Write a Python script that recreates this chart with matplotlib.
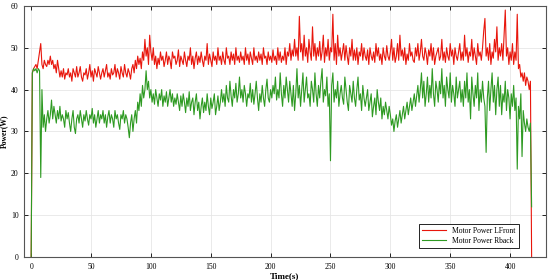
import numpy as np
import matplotlib
matplotlib.use("Agg")
import matplotlib.pyplot as plt

# motor power, one sample per second
lfront = [0, 44, 45, 45.5, 46, 45, 47, 49, 51, 46, 45, 47, 46, 45.5, 47, 46, 48, 46, 47, 45,
          46, 44, 47, 45, 43, 44.5, 43, 45, 42.5, 44, 43.5, 45, 43, 44, 42, 45, 44, 43, 45.5, 43,
          44, 45.5, 43, 42, 44, 43.5, 45, 42.5, 44, 46, 43, 44.5, 42, 45, 44, 43, 45.5, 44, 42.5, 44,
          45, 43, 44.5, 46, 43, 44, 42.5, 45, 43.5, 44, 46, 43, 45, 44, 42.5, 45.5, 44, 43, 46, 44,
          43, 45, 44, 42.5, 45, 46, 44, 47, 45, 48, 46, 47.5, 45, 49, 47, 52, 48, 50, 46, 53,
          49, 47, 50, 46, 48, 45, 47.5, 46, 49, 47, 48, 45.5, 47, 49, 46, 48, 47, 45, 49, 47.5,
          48, 46, 47, 49.5, 45.5, 48, 47, 46, 49, 47, 45.5, 48, 47, 50, 46, 48, 45, 47.5, 49, 46,
          48, 46.5, 49, 47, 45.5, 48, 47, 51, 46, 48.5, 47, 45.5, 49, 47, 48, 46, 50, 47, 48, 46,
          49, 47, 46, 50, 47.5, 48, 46, 49, 47, 48.5, 46, 50, 47, 48, 46.5, 49, 47, 48, 46, 50,
          47, 48.5, 46, 49, 47.5, 46, 50, 47, 48, 46.5, 49, 47, 48.5, 46, 50, 47.5, 48, 46, 49, 47,
          48, 46.5, 49.5, 47, 48, 46, 50, 47, 49, 46.5, 48, 47, 50, 46, 49, 48, 51, 47, 49.5, 48,
          52, 48, 50, 47, 57.5, 49, 51, 47, 53, 48, 50, 46.5, 52, 49, 47, 55, 48, 51, 47, 50,
          48, 51.5, 47, 49, 53, 46.5, 50, 48, 52, 47, 50, 49, 58, 47, 51, 46, 53, 48, 50, 47,
          49, 51, 47, 50.5, 48, 46, 50, 48, 52, 47, 49.5, 47, 50, 46, 49, 48, 51, 47, 50, 48,
          47, 49.5, 46, 50, 48, 47, 49, 46.5, 51, 48, 50, 47, 48.5, 46, 50, 48, 47, 50.5, 48, 47,
          49, 52, 47, 50, 46.5, 48, 51, 47, 53, 48, 49.5, 47, 50, 46, 48.5, 47, 51, 48, 49, 47,
          46.5, 50, 48, 51, 47, 49, 52, 48, 47, 50, 48.5, 46, 49.5, 48, 51, 47, 50, 46, 48, 49,
          50, 47, 48, 52, 47, 49, 46.5, 50, 48, 47, 51, 48, 49.5, 46, 50, 48, 47, 49, 51, 47,
          49, 47, 53, 48, 50, 46.5, 49, 48, 52, 47, 50, 48, 46, 51, 48, 49, 47, 50, 54, 57,
          48, 50, 47, 51, 46, 49, 47.5, 52, 49, 55, 47, 50, 48, 51, 47, 53, 59, 48, 50, 46,
          49, 47, 51, 46, 49, 47, 58, 45, 46, 43, 44, 42, 44, 41, 43, 42, 40, 42, 0]

rback = [0, 44, 45, 44.5, 45, 44, 45, 44.5, 19, 40, 31, 34, 30, 33, 35, 32, 34, 37.5, 33, 36,
         34, 32, 35, 33, 36, 32.5, 34, 33, 31, 35, 33, 34.5, 32, 30, 33, 35, 31, 29.5, 33, 34,
         32, 35, 33, 31, 34, 32.5, 35, 33, 31.5, 34, 33, 35.5, 32, 34, 31, 33, 35, 32, 34, 33,
         35, 32, 34, 31, 33.5, 35, 32, 34, 33, 31, 35, 33, 34, 32, 30.5, 34, 33, 35, 32, 34,
         33, 31, 28.5, 32, 34, 30, 33, 35, 32, 37, 35, 39, 36, 41, 38, 40, 44.5, 40, 42, 38,
         40, 37, 39, 36.5, 40, 38, 36, 39, 37.5, 40, 36, 38.5, 37, 39.5, 36, 38, 40, 37, 39, 36,
         38, 36.5, 39, 37, 35, 38.5, 36, 39, 37, 34.5, 38, 36, 39.5, 35, 37, 38, 34, 37, 39, 35,
         37, 33, 36, 38, 34.5, 37, 35, 39, 36, 34, 38, 35.5, 37, 39, 34, 36, 38.5, 35, 37, 40,
         37, 39, 36, 41, 38, 37, 42, 38.5, 36, 40, 38, 41.5, 37, 39, 43, 38, 40, 37, 41, 39,
         36, 39, 38, 41.5, 37, 40, 36.5, 39, 42, 38, 35, 39, 37, 41, 38, 36, 40, 42.5, 38, 37,
         40, 38, 41, 39, 43, 37.5, 40, 38, 44, 39, 36, 41, 38, 43, 40, 37, 42, 39, 36, 41,
         35, 39, 45, 38, 41, 36, 40, 44, 37, 40, 43, 38, 39, 36, 42, 40, 37, 44, 39, 36,
         41, 38, 42, 45, 37, 40, 38.5, 43, 36, 39, 23, 41, 44, 37, 40, 38, 42, 36, 39, 41,
         38, 36.5, 43, 40, 37, 35, 41, 39, 37, 42, 38, 36, 40, 43, 37.5, 39, 35, 41, 38, 36,
         38, 40, 35, 37, 39, 33.5, 36, 38, 34, 40, 37, 35, 38, 33, 36, 34, 37, 35, 33, 36,
         34, 31.5, 33, 30, 32.5, 34, 31, 33, 35, 32, 34, 36, 33, 35, 37, 34, 36, 38, 35, 37,
         39, 36, 38.5, 41, 37, 40, 44, 38, 42, 36, 39, 43, 37, 41, 38, 45, 39, 36, 42, 40,
         37, 42, 39, 45, 38, 41, 36, 43, 40, 38, 44, 37, 41, 39, 36, 43, 38, 40, 42, 37,
         40, 36, 42, 38, 44, 37, 40, 33, 43, 39, 36, 41, 38, 44, 35, 40, 37, 42, 38, 36,
         25, 38, 42, 35, 40, 44, 37, 41, 34, 40, 43, 36, 41, 34, 39, 37, 42, 35, 40, 38,
         33, 39, 36, 41, 35, 38, 21, 36, 33, 39, 24, 35, 32, 30, 33, 31, 30, 32, 12]

time_f = np.arange(len(lfront))
time_b = np.arange(len(rback))

plt.rcParams['font.family'] = ['Liberation Serif', 'DejaVu Serif']

fig = plt.figure(figsize=(5.5, 2.8), dpi=100)
ax = fig.add_axes([0.0436, 0.082, 0.9491, 0.897])

ax.plot(time_f, lfront, color='#e8160c', lw=0.8, label='Motor Power LFront')
ax.plot(time_b, rback, color='#2e9a22', lw=0.8, label='Motor Power Rback')

ax.set_xlim(-6, 430)
ax.set_ylim(0, 60)
ax.set_xticks(np.arange(0, 401, 50))
ax.set_yticks(np.arange(0, 61, 10))
ax.grid(True, color='#e6e6e6', lw=0.6)
ax.set_axisbelow(True)
ax.tick_params(direction='in', top=True, right=True, labelsize=5.5,
               length=3, width=0.6, pad=4)
for s in ax.spines.values():
    s.set_color('#555555')
    s.set_linewidth(0.8)

ax.set_xlabel('Time(s)', fontsize=6.5, fontweight='bold', labelpad=1)
ax.set_ylabel('Power(W)', fontsize=5.5, fontweight='bold', labelpad=2)

leg = ax.legend(loc='lower right', fontsize=5.5, fancybox=False,
                edgecolor='black', framealpha=1, handlelength=3.2,
                borderpad=0.4, labelspacing=0.3, bbox_to_anchor=(0.955, 0.02))
leg.get_frame().set_linewidth(0.6)

fig.savefig('out.png', dpi=100)
